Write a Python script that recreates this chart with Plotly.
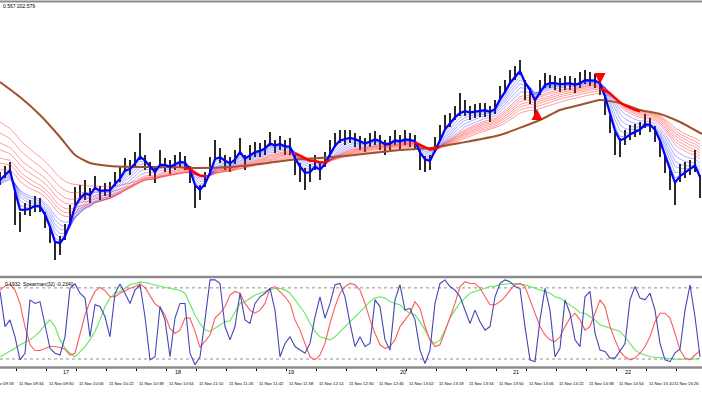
import plotly.graph_objects as go

# ---------------- data ----------------
# price samples (one every ~2.67 minutes, starting 09:25)
CLOSE = [122,128,133,95,78,90,92,96,93,80,
         65,48,56,68,85,105,107,110,104,117,
         107,110,110,120,125,135,132,140,148,137,
         130,124,140,135,132,137,140,137,125,105,
         107,120,135,150,144,137,135,143,153,137,
         147,150,150,153,160,153,157,152,153,134,
         128,123,128,137,128,140,152,160,163,162,
         163,160,157,155,160,162,158,153,157,162,
         158,162,160,158,140,136,138,155,167,178,
         180,187,190,190,187,189,190,190,187,193,
         207,213,223,227,233,210,205,193,213,220,
         218,217,215,217,217,214,218,222,220,219,
         215,195,175,158,153,163,168,170,172,179,
         175,167,152,135,123,108,128,130,133,137,
         115]
HIGH = [128,134,138,110,88,97,100,104,102,88,
        74,58,64,76,95,113,115,120,112,124,
        114,117,118,128,134,142,140,148,167,145,
        138,132,150,142,140,145,148,144,134,114,
        115,128,143,160,152,145,143,150,162,145,
        155,158,157,160,168,160,164,160,162,145,
        137,132,136,145,137,148,160,167,170,170,
        170,167,164,162,167,169,165,160,164,170,
        165,170,167,165,150,144,145,163,175,185,
        187,194,207,200,194,196,197,197,194,200,
        214,220,230,234,240,220,212,202,220,227,
        225,224,222,224,224,222,228,230,228,226,
        224,205,185,168,162,170,175,176,178,186,
        182,174,160,145,133,120,136,138,140,150,
        125]
LOW = [115,122,127,75,68,85,84,88,88,72,
       57,40,45,60,75,95,100,100,97,110,
       100,104,103,114,118,128,125,134,140,130,
       124,117,133,128,126,130,133,130,117,92,
       100,113,128,140,137,130,128,136,145,130,
       140,143,143,145,154,147,150,145,145,125,
       118,110,118,130,120,133,143,153,157,155,
       157,153,150,148,153,155,150,145,150,155,
       150,155,153,150,130,128,130,148,160,170,
       173,180,184,184,180,182,183,183,178,186,
       200,207,216,220,225,200,196,180,205,212,
       212,210,208,210,210,207,212,216,214,212,
       205,185,167,145,143,155,160,163,165,172,
       168,158,143,127,110,95,118,122,125,128,
       102]

# long moving average (brown), read at knots
BROWN_X = [0,4,8,12,15,18,22,28,34,40,46,52,58,64,69,80,86,92,100,108,112,116,120,124,128,132,136,140.4]
BROWN_Y = [218,203,185,163,145,137,134,133,133,132,133,136,140,142,144,150,152,157,165,180,190,195,200,197,190,186,178,166]

# ribbon starting levels at the left edge (history before the window)
BLUE_START = [120,121,120,119,118,117,116]
RED_START = [130,137,142,150,157,167,178]

# stretches (sample index ranges) where the heavy red line is shown, and which red line it follows
BOLD_RED_FROM = [37, 59, 83, 120]
BOLD_RED_TO = [41, 66, 88, 128]
BOLD_RED_LINE = [0, 0, 0, 4]

# signal arrows
ARROW_X = [107.4, 120.0]
ARROW_Y = [191, 216]
ARROW_SYM = ["arrow-up", "arrow-down"]

# Spearman oscillator panel
OSC_BLUE = [0.72,-0.07,0.08,-0.30,-0.82,-0.67,0.53,0.45,0.49,-0.07,
            -0.56,-0.67,-0.71,-0.30,0.79,0.89,0.68,0.57,-0.30,0.42,
            0.38,0.15,-0.30,0.68,0.89,0.68,0.45,0.75,0.87,0.15,
            -0.82,-0.75,0.38,0.08,-0.75,0.12,0.45,0.45,-0.67,-0.93,
            -0.75,0.08,0.98,0.98,0.90,-0.07,-0.37,-0.07,0.68,0.08,
            0.00,0.45,0.60,0.68,0.79,0.30,-0.75,-0.45,-0.30,-0.52,
            -0.60,-0.67,-0.45,0.15,0.60,0.12,0.45,0.87,0.90,0.60,
            0.00,-0.52,-0.30,-0.52,-0.45,0.53,0.38,-0.37,-0.60,0.53,
            0.87,0.30,0.34,0.08,-0.60,-0.90,-0.60,0.45,0.90,0.98,
            0.83,0.75,0.60,0.30,0.00,0.30,0.04,-0.15,-0.07,0.60,
            0.90,0.98,0.94,0.83,0.79,-0.07,-0.82,-0.86,0.08,0.79,
            0.30,-0.75,-0.56,0.53,0.23,-0.37,-0.52,0.60,0.72,-0.22,
            -0.60,-0.63,-0.78,-0.78,-0.60,-0.45,0.53,0.83,0.57,0.53,
            0.68,0.30,-0.45,-0.82,-0.86,-0.66,-0.58,0.30,0.87,0.15,
            -0.75]
OSC_RED = [0.75,0.84,0.89,0.75,0.45,-0.07,-0.48,-0.61,-0.61,-0.56,
           -0.52,-0.52,-0.54,-0.58,-0.71,-0.67,-0.26,0.19,0.49,0.72,
           0.81,0.74,0.60,0.60,0.68,0.74,0.79,0.83,0.89,0.81,
           0.64,0.44,0.36,0.19,-0.11,-0.22,-0.15,0.12,0.12,-0.18,
           -0.54,-0.41,-0.26,0.12,0.23,0.38,0.64,0.72,0.68,0.45,
           0.30,0.23,0.30,0.45,0.79,0.83,0.72,0.60,0.45,0.08,
           -0.15,-0.45,-0.75,-0.82,-0.71,-0.45,0.00,0.38,0.68,0.83,
           0.90,0.87,0.75,0.45,0.08,-0.22,-0.48,-0.56,-0.52,-0.37,
           -0.07,0.08,0.23,0.49,0.34,-0.07,-0.37,-0.52,-0.48,-0.18,
           0.12,0.45,0.83,0.94,0.90,0.90,0.79,0.60,0.42,0.42,
           0.49,0.60,0.75,0.87,0.90,0.83,0.53,0.23,-0.07,-0.26,
           -0.37,-0.41,-0.30,-0.07,0.12,0.23,0.08,-0.15,-0.07,0.23,
           0.53,0.38,-0.07,-0.37,-0.63,-0.75,-0.82,-0.78,-0.67,-0.52,
           -0.30,0.04,0.23,0.23,0.12,-0.22,-0.60,-0.78,-0.82,-0.71,
           -0.61]
OSC_GREEN = [-0.75,-0.69,-0.63,-0.56,-0.48,-0.43,-0.37,-0.28,-0.18,-0.03,
             0.08,-0.07,-0.37,-0.56,-0.67,-0.75,-0.63,-0.52,-0.37,-0.18,
             0.08,0.38,0.57,0.68,0.72,0.79,0.87,0.90,0.93,0.92,
             0.89,0.87,0.83,0.81,0.79,0.77,0.74,0.68,0.45,0.19,
             0.00,-0.15,-0.18,-0.11,-0.03,0.04,0.06,0.27,0.45,0.49,
             0.57,0.64,0.68,0.72,0.75,0.79,0.79,0.75,0.68,0.53,
             0.38,0.23,0.00,-0.18,-0.30,-0.33,-0.37,-0.30,-0.18,-0.07,
             0.04,0.15,0.27,0.38,0.49,0.57,0.60,0.57,0.49,0.45,
             0.42,0.30,0.23,0.19,0.04,-0.15,-0.37,-0.45,-0.37,-0.15,
             0.12,0.30,0.47,0.57,0.68,0.72,0.75,0.79,0.83,0.84,
             0.87,0.89,0.90,0.90,0.89,0.87,0.83,0.79,0.75,0.72,
             0.68,0.60,0.57,0.49,0.42,0.34,0.24,0.23,0.15,0.08,
             -0.03,-0.07,-0.11,-0.15,-0.18,-0.30,-0.45,-0.60,-0.67,-0.71,
             -0.75,-0.76,-0.77,-0.78,-0.80,-0.81,-0.81,-0.80,-0.80,-0.80,
             -0.78]
OSC_LEVELS = [0.8, -0.8]

TIME_LABELS = ["11 Nov 09:18","11 Nov 09:34","11 Nov 09:50","11 Nov 10:06","11 Nov 10:22",
               "11 Nov 10:38","11 Nov 10:54","11 Nov 11:10","11 Nov 11:26","11 Nov 11:42",
               "11 Nov 11:58","11 Nov 12:14","11 Nov 12:30","11 Nov 12:46","11 Nov 13:02",
               "11 Nov 13:18","11 Nov 13:34","11 Nov 13:50","11 Nov 14:06","11 Nov 14:22",
               "11 Nov 14:38","11 Nov 14:54","11 Nov 15:10","11 Nov 15:26"]
HOUR_LABELS = ["17","18","19","20","21","22"]
HOUR_MINUTES = [35, 95, 155, 215, 275, 335]   # minutes after 09:25
START_MINUTE = 9*60 + 25
MIN_PER_SAMPLE = 8/3

HEADER_TEXT = "0.567 202.579"
OSC_TEXT = "0.1932  Spearman(32) -0.2340"

# ---------------- helpers ----------------
def ema(series, alpha, start):
    out = [start]
    for v in series[1:]:
        out.append(out[-1] + alpha*(v - out[-1]))
    return out

def label_minute(lbl):
    hh, mm = lbl.split()[-1].split(":")
    return int(hh)*60 + int(mm) - START_MINUTE

N = len(CLOSE)
X = list(range(N))
XMAX = 140.4

BLUE_ALPHA = [0.6, 0.5, 0.4, 0.32, 0.26, 0.21, 0.17]
RED_ALPHA = [0.14, 0.125, 0.112, 0.1, 0.09, 0.08, 0.07]

blue_lines = [ema(CLOSE, a, s) for a, s in zip(BLUE_ALPHA, BLUE_START)]
red_lines = [ema(CLOSE, a, s) for a, s in zip(RED_ALPHA, RED_START)]

fig = go.Figure()

# price bars
bx, by = [], []
for i, (h, l) in enumerate(zip(HIGH, LOW)):
    bx += [i, i, None]
    by += [l, h, None]
fig.add_trace(go.Scatter(x=bx, y=by, mode="lines", line=dict(color="#111111", width=1.8),
                         xaxis="x", yaxis="y", hoverinfo="skip"))

for ln in red_lines:
    fig.add_trace(go.Scatter(x=X, y=ln, mode="lines", line=dict(color="rgba(255,40,40,0.5)", width=0.9),
                             xaxis="x", yaxis="y"))
for ln in blue_lines[1:]:
    fig.add_trace(go.Scatter(x=X, y=ln, mode="lines", line=dict(color="rgba(40,40,255,0.42)", width=0.9),
                             xaxis="x", yaxis="y"))

fig.add_trace(go.Scatter(x=BROWN_X, y=BROWN_Y, mode="lines",
                         line=dict(color="#a0522d", width=2, shape="spline", smoothing=0.5),
                         xaxis="x", yaxis="y"))

fig.add_trace(go.Scatter(x=X, y=blue_lines[0], mode="lines", line=dict(color="#0000ff", width=2.2),
                         xaxis="x", yaxis="y"))

# heavy red line over the stretches
for a, b, k in zip(BOLD_RED_FROM, BOLD_RED_TO, BOLD_RED_LINE):
    seg_x = X[a:b + 1]
    seg_y = red_lines[k][a:b + 1]
    fig.add_trace(go.Scatter(x=seg_x, y=seg_y, mode="lines", line=dict(color="#ff0000", width=2.4),
                             xaxis="x", yaxis="y"))

fig.add_trace(go.Scatter(x=ARROW_X, y=ARROW_Y, mode="markers",
                         marker=dict(symbol=ARROW_SYM, size=11, color="#ff0000"),
                         xaxis="x", yaxis="y"))

# oscillator panel
fig.add_trace(go.Scatter(x=X, y=OSC_GREEN, mode="lines", line=dict(color="#5ee85e", width=1.1),
                         xaxis="x2", yaxis="y2"))
fig.add_trace(go.Scatter(x=X, y=OSC_RED, mode="lines", line=dict(color="#ff5a5a", width=1.1),
                         xaxis="x2", yaxis="y2"))
fig.add_trace(go.Scatter(x=X, y=OSC_BLUE, mode="lines", line=dict(color="#4646b4", width=1.1),
                         xaxis="x2", yaxis="y2"))

shapes = []
for lv in OSC_LEVELS:
    shapes.append(dict(type="line", xref="paper", x0=0, x1=1, yref="y2", y0=lv, y1=lv,
                       line=dict(color="#909090", width=1, dash="dot"), layer="below"))
H = 395.0
for ypx, w in [(1.5, 2), (277, 2.5), (367.5, 2.5)]:
    shapes.append(dict(type="line", xref="paper", x0=0, x1=1, yref="paper", y0=1-ypx/H, y1=1-ypx/H,
                       line=dict(color="#8c8c8c", width=w)))

FONT = "Liberation Sans, Arial, sans-serif"
annotations = [
    dict(text=HEADER_TEXT, xref="paper", yref="paper", x=0.002, y=1-6/H, xanchor="left", yanchor="middle",
         showarrow=False, font=dict(size=5, color="#000", family=FONT)),
    dict(text=OSC_TEXT, xref="paper", yref="paper", x=0.004, y=1-283.5/H, xanchor="left", yanchor="middle",
         showarrow=False, font=dict(size=5, color="#000", family=FONT)),
]
tick_pos = []
for j, lbl in enumerate(TIME_LABELS):
    pos = label_minute(lbl) / MIN_PER_SAMPLE
    tick_pos.append(pos)
    last = (j == len(TIME_LABELS) - 1)
    annotations.append(dict(text=lbl, xref="paper", yref="paper",
                            x=0.999 if last else pos/XMAX, y=1-383.5/H,
                            xanchor="right" if last else "left", yanchor="middle", showarrow=False,
                            font=dict(size=4.2, color="#000", family=FONT)))
for lbl, m in zip(HOUR_LABELS, HOUR_MINUTES):
    annotations.append(dict(text=lbl, xref="paper", yref="paper", x=(m/MIN_PER_SAMPLE)/XMAX, y=1-372/H,
                            xanchor="center", yanchor="middle", showarrow=False,
                            font=dict(size=5.5, color="#000", family=FONT)))

fig.update_layout(
    width=702, height=395,
    margin=dict(l=0, r=0, t=0, b=0),
    paper_bgcolor="white", plot_bgcolor="white",
    showlegend=False,
    xaxis=dict(domain=[0, 1], range=[0, XMAX], anchor="y", visible=False),
    yaxis=dict(domain=[1-275/H, 1-5/H], range=[25, 295], visible=False),
    xaxis2=dict(domain=[0, 1], range=[0, XMAX], anchor="y2", showgrid=False, zeroline=False,
                showticklabels=False, showline=False, ticks="outside", ticklen=3,
                tickcolor="#000", tickvals=tick_pos),
    yaxis2=dict(domain=[1-367/H, 1-279/H], range=[-0.98, 1.0], visible=False),
    shapes=shapes,
    annotations=annotations,
)

fig.write_html("out.html", config={"displayModeBar": False},
               post_script="document.body.style.margin='0px';document.body.style.overflow='hidden';")
